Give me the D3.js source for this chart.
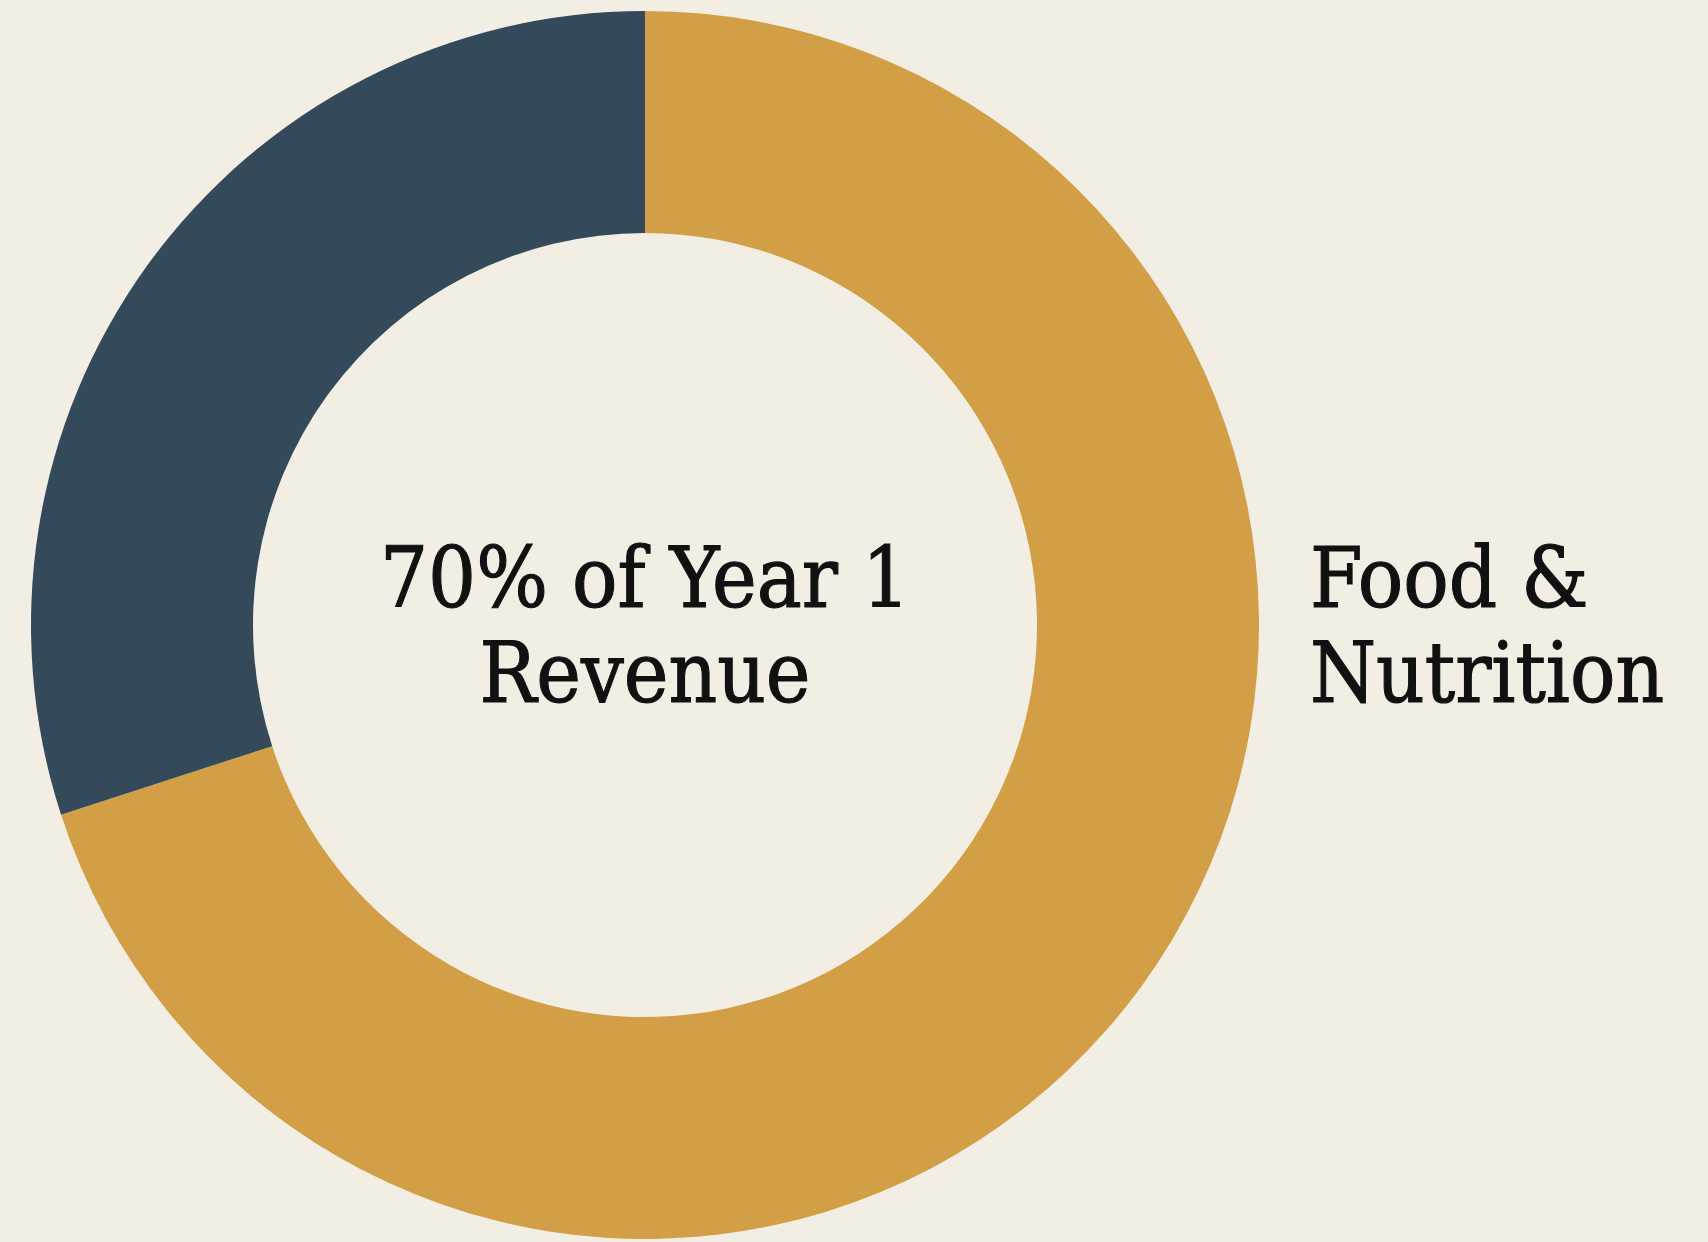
<!DOCTYPE html>
<html>
<head>
<meta charset="utf-8">
<script src="https://cdn.jsdelivr.net/npm/d3@7"></script>
<style>
  html, body { margin: 0; padding: 0; background: #f2eee3; overflow: hidden; }
  text { font-family: "DejaVu Serif Condensed", "DejaVu Serif", serif; font-stretch: condensed;
         fill: #111; stroke: #111; stroke-width: 1.1px; }
</style>
</head>
<body>
<div id="chart"></div>
<script>
// data
var categories = ["Food & Nutrition", "Other"];
var shares = [70, 30];
var colors = ["#d29f47", "#34495a"];
var centerLines = ["70% of Year 1", "Revenue"];
var labelLines = ["Food &", "Nutrition"];

var svgWidth = 1708;
var svgHeight = 1242;

var svg = d3.select("#chart")
            .append("svg")
            .attr("width", svgWidth)
            .attr("height", svgHeight);

var cx = 645, cy = 625;
var outerR = 614, innerR = 392;

var chartGroup = svg.append("g")
                    .attr("transform", `translate(${cx}, ${cy})`);

var pie = d3.pie().sort(null).value(d => d);
var arc = d3.arc().innerRadius(innerR).outerRadius(outerR);

chartGroup.selectAll("path")
          .data(pie(shares))
          .enter()
          .append("path")
          .attr("d", arc)
          .attr("fill", (d, i) => colors[i]);

// center text
chartGroup.selectAll(".centerText")
          .data(centerLines)
          .enter()
          .append("text")
          .attr("class", "centerText")
          .attr("text-anchor", "middle")
          .attr("x", 0)
          .attr("y", (d, i) => -18 + i * 95)
          .attr("font-size", "84px")
          .text(d => d);

// slice label on the right
svg.selectAll(".sliceLabel")
   .data(labelLines)
   .enter()
   .append("text")
   .attr("class", "sliceLabel")
   .attr("x", 1310)
   .attr("y", (d, i) => 607 + i * 95)
   .attr("font-size", "84px")
   .text(d => d);
</script>
</body>
</html>
